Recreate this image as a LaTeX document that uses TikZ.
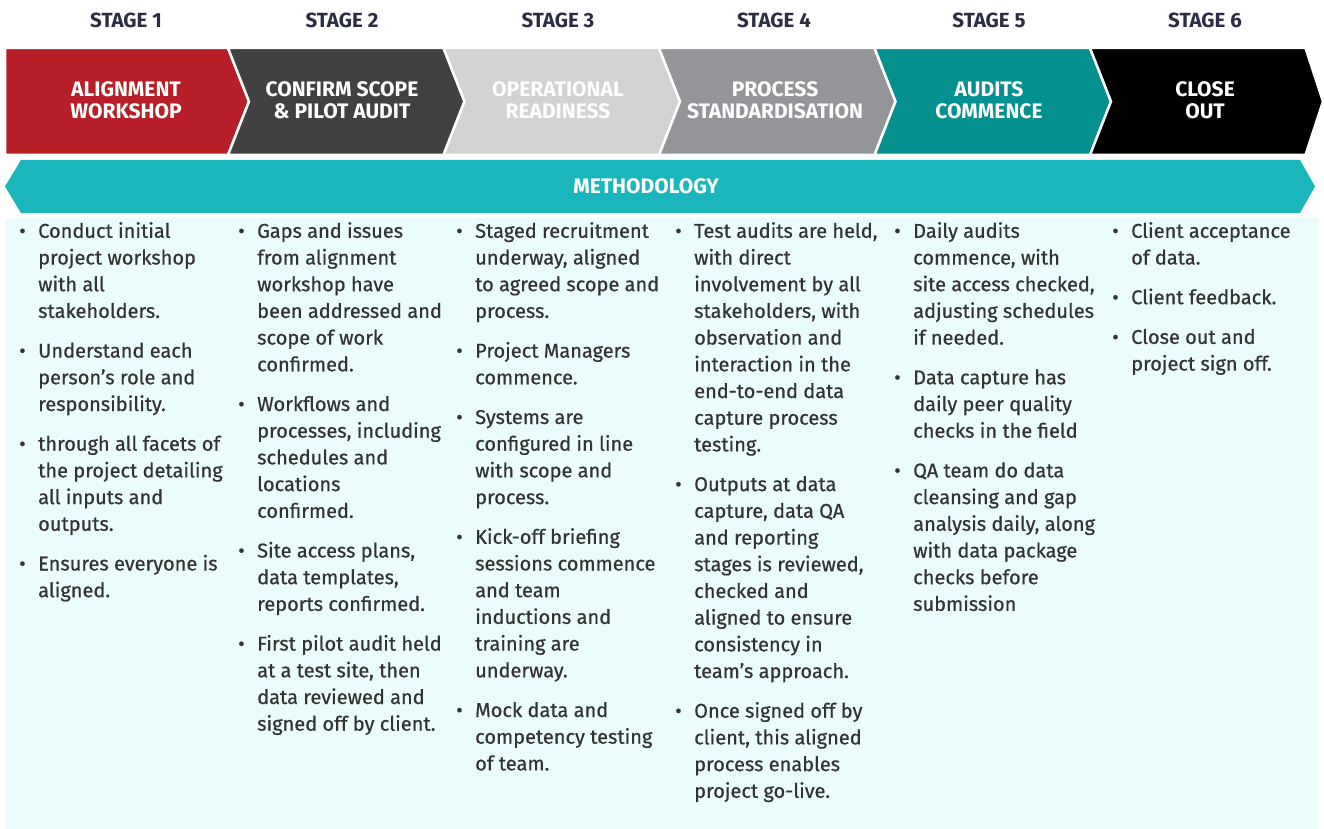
\documentclass[tikz,border=0pt]{standalone}
\usepackage{fontspec}
\setmainfont{Fira Sans}
\newfontfamily\bodyfont{Fira Sans}[FakeBold=0.6]

\definecolor{stagered}{HTML}{B71F28}
\definecolor{stagedark}{HTML}{414141}
\definecolor{stagelight}{HTML}{D2D2D2}
\definecolor{stagegrey}{HTML}{939598}
\definecolor{stageteal}{HTML}{03908F}
\definecolor{methodteal}{HTML}{1BB6BC}
\definecolor{bodycyan}{HTML}{EBFCFD}
\definecolor{inknavy}{HTML}{2B2E43}
\definecolor{inktext}{HTML}{333333}

\newcommand\itm{\llap{\textbullet\hspace{12.5pt}}}

\begin{document}
\begin{tikzpicture}[x=1pt, y=-1pt]
  \tikzstyle{lbl} = [font=\fontsize{20.5}{22}\selectfont\bfseries, color=inknavy];
  \tikzstyle{chev} = [draw=white, line width=2.5pt, line join=miter];
  \tikzstyle{title} = [font=\fontsize{21}{22}\selectfont\bfseries, color=white,
  align=center, inner sep=0pt];
  \tikzstyle{col} = [anchor=north west, inner sep=0pt, align=left, color=inktext,
  font=\bodyfont\fontsize{20}{26.7}\selectfont];

  \useasboundingbox (0,0) rectangle (1324,829);
  \fill[bodycyan] (5,218) rectangle (1318,829);

  % stage headings
  \node[lbl] (st1) at (126,20) {STAGE 1};
  \node[lbl] (st2) at (342,20) {STAGE 2};
  \node[lbl] (st3) at (558,20) {STAGE 3};
  \node[lbl] (st4) at (774,20) {STAGE 4};
  \node[lbl] (st5) at (989,20) {STAGE 5};
  \node[lbl] (st6) at (1205,20) {STAGE 6};

  % chevrons
  \fill[stagered,chev] (5,48) -- (228,48) -- (249,101.5) -- (228,155) -- (5,155) -- cycle;
  \fill[stagedark,chev] (228,48) -- (443.5,48) -- (464.5,101.5) -- (443.5,155)
    -- (228,155) -- (249,101.5) -- cycle;
  \fill[stagelight,chev] (443.5,48) -- (659,48) -- (680,101.5) -- (659,155)
    -- (443.5,155) -- (464.5,101.5) -- cycle;
  \fill[stagegrey,chev] (659,48) -- (874.5,48) -- (895.5,101.5) -- (874.5,155)
    -- (659,155) -- (680,101.5) -- cycle;
  \fill[stageteal,chev] (874.5,48) -- (1090,48) -- (1111,101.5) -- (1090,155)
    -- (874.5,155) -- (895.5,101.5) -- cycle;
  \fill[black,chev] (1090,48) -- (1305.5,48) -- (1323,101.5) -- (1305.5,155)
    -- (1090,155) -- (1111,101.5) -- cycle;

  \node[title] (n1) at (126,100) {ALIGNMENT\\WORKSHOP};
  \node[title] (n2) at (342,100) {CONFIRM SCOPE\\\& PILOT AUDIT};
  \node[title] (n3) at (558,100) {OPERATIONAL\\READINESS};
  \node[title] (n4) at (775,100) {PROCESS\\STANDARDISATION};
  \node[title] (n5) at (989,100) {AUDITS\\COMMENCE};
  \node[title] (n6) at (1205,100) {CLOSE\\OUT};

  % methodology band
  \fill[methodteal] (21,160) -- (1300,160) -- (1315,186.5) -- (1300,213) -- (21,213)
    -- (5,186.5) -- cycle;
  \node[title] (meth) at (646,186) {METHODOLOGY};

  % columns
  \node[col] (c1) at (38,222) {\itm Conduct initial\\project workshop\\with all\\stakeholders.\\[13pt]
    \itm Understand each\\person’s role and\\responsibility.\\[13pt]
    \itm through all facets of\\the project detailing\\all inputs and\\outputs.\\[13pt]
    \itm Ensures everyone is\\aligned.};
  \node[col] (c2) at (257,222) {\itm Gaps and issues\\from alignment\\workshop have\\been addressed and\\scope of work\\confirmed.\\[13pt]
    \itm Workflows and\\processes, including\\schedules and\\locations\\confirmed.\\[13pt]
    \itm Site access plans,\\data templates,\\reports confirmed.\\[13pt]
    \itm First pilot audit held\\at a test site, then\\data reviewed and\\signed off by client.};
  \node[col] (c3) at (475,222) {\itm Staged recruitment\\underway, aligned\\to agreed scope and\\process.\\[13pt]
    \itm Project Managers\\commence.\\[13pt]
    \itm Systems are\\configured in line\\with scope and\\process.\\[13pt]
    \itm Kick-off briefing\\sessions commence\\and team\\inductions and\\training are\\underway.\\[13pt]
    \itm Mock data and\\competency testing\\of team.};
  \node[col] (c4) at (694,222) {\itm Test audits are held,\\with direct\\involvement by all\\stakeholders, with\\observation and\\interaction in the\\end-to-end data\\capture process\\testing.\\[13pt]
    \itm Outputs at data\\capture, data QA\\and reporting\\stages is reviewed,\\checked and\\aligned to ensure\\consistency in\\team’s approach.\\[13pt]
    \itm Once signed off by\\client, this aligned\\process enables\\project go-live.};
  \node[col] (c5) at (913,222) {\itm Daily audits\\commence, with\\site access checked,\\adjusting schedules\\if needed.\\[13pt]
    \itm Data capture has\\daily peer quality\\checks in the field\\[13pt]
    \itm QA team do data\\cleansing and gap\\analysis daily, along\\with data package\\checks before\\submission};
  \node[col] (c6) at (1131,222) {\itm Client acceptance\\of data.\\[13pt]
    \itm Client feedback.\\[13pt]
    \itm Close out and\\project sign off.};
\end{tikzpicture}
\end{document}
